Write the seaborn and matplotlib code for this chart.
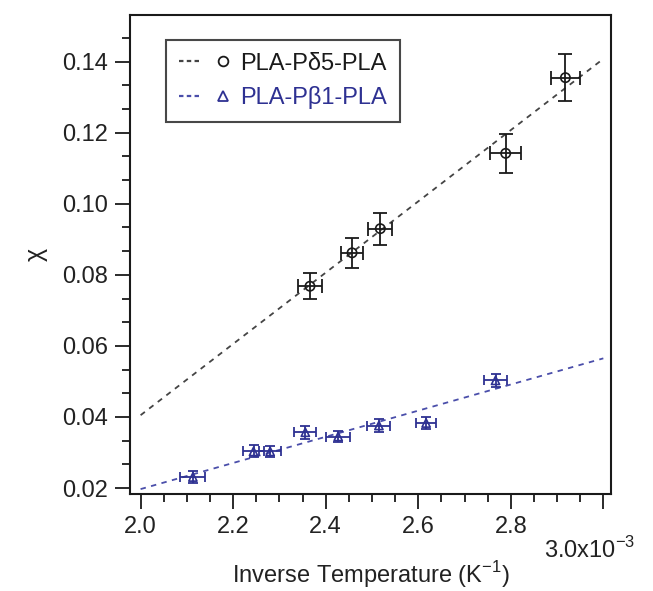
import numpy as np
import pandas as pd
import matplotlib
matplotlib.use("Agg")
import matplotlib.pyplot as plt
import seaborn as sns
from matplotlib.lines import Line2D
from matplotlib.legend_handler import HandlerTuple
from matplotlib.ticker import MultipleLocator

# data (x in units of 1e-3 K^-1)
delta_label = "PLA-P\u03b45-PLA"
delta_x = [2.366, 2.457, 2.518, 2.789, 2.918]
delta_chi = [0.0768, 0.0862, 0.0930, 0.1142, 0.1355]
delta_xerr = [0.026, 0.024, 0.026, 0.033, 0.032]
delta_yerr = [0.0037, 0.0042, 0.0045, 0.0055, 0.0066]

beta_label = "PLA-P\u03b21-PLA"
beta_x = [2.113, 2.244, 2.280, 2.356, 2.427, 2.515, 2.617, 2.767]
beta_chi = [0.0231, 0.0303, 0.0303, 0.0357, 0.0345, 0.0376, 0.0383, 0.0503]
beta_xerr = [0.027, 0.022, 0.024, 0.024, 0.026, 0.025, 0.022, 0.025]
beta_yerr = [0.0018, 0.0017, 0.0015, 0.0018, 0.0016, 0.0017, 0.0017, 0.0018]

# linear fits
fit_x = [2.0, 3.0]
delta_fit = [0.0405, 0.1408]
beta_fit = [0.0197, 0.0565]

xtick_vals = [2.0, 2.2, 2.4, 2.6, 2.8, 3.0]
xtick_labels = ["2.0", "2.2", "2.4", "2.6", "2.8", ""]
last_xlabel = "3.0x10$^{-3}$"

black = "#1a1a1a"
blue = "#2e3192"
textc = "#222222"

sns.set_style("ticks")
plt.rcParams['font.family'] = ['Liberation Sans', 'DejaVu Sans']
plt.rcParams['mathtext.fontset'] = 'custom'
plt.rcParams['mathtext.rm'] = 'Liberation Sans'

fig = plt.figure(figsize=(6.53, 5.91), dpi=100)
ax = fig.add_axes([0.199, 0.164, 0.737, 0.811])

fits = pd.DataFrame({"x": fit_x * 2,
                     "chi": delta_fit + beta_fit,
                     "series": [delta_label] * 2 + [beta_label] * 2})
sns.lineplot(data=fits, x="x", y="chi", hue="series", style="series",
             palette={delta_label: "#444444", beta_label: "#4a4eaa"},
             dashes={delta_label: (3, 3), beta_label: (3, 3)},
             linewidth=1.3, legend=False, ax=ax)

ax.errorbar(delta_x, delta_chi, xerr=delta_xerr, yerr=delta_yerr, fmt="none",
            ecolor=black, elinewidth=1.3, capsize=5, capthick=1.3, zorder=3)
ax.errorbar(beta_x, beta_chi, xerr=beta_xerr, yerr=beta_yerr, fmt="none",
            ecolor=blue, elinewidth=1.3, capsize=3.5, capthick=1.3, zorder=3)

sns.scatterplot(x=delta_x, y=delta_chi, marker="o", s=45, facecolor="none",
                edgecolor=black, linewidth=1.2, ax=ax, zorder=4)
sns.scatterplot(x=beta_x, y=beta_chi, marker="^", s=35, facecolor="none",
                edgecolor=blue, linewidth=1.2, ax=ax, zorder=4)

ax.set_xlim(1.977, 3.017)
ax.set_ylim(0.0183, 0.1532)
ax.set_xticks(xtick_vals)
ax.set_xticklabels(xtick_labels)
ax.xaxis.set_minor_locator(MultipleLocator(0.05))
ax.yaxis.set_major_locator(MultipleLocator(0.02))
ax.yaxis.set_minor_locator(MultipleLocator(0.02 / 3))
ax.yaxis.set_major_formatter(matplotlib.ticker.FormatStrFormatter('%.2f'))

ax.tick_params(which="major", length=11, width=1.3, color=black,
               labelsize=17, labelcolor=textc, pad=5)
ax.tick_params(which="minor", length=6, width=1.3, color=black)
for sp in ax.spines.values():
    sp.set_linewidth(1.5)
    sp.set_color(black)

# last tick label sits lower and a bit left in the original
ax.annotate(last_xlabel, xy=(3.0, 0), xycoords=("data", "axes fraction"),
            xytext=(-10, -40), textcoords="offset points", ha="center",
            va="center", fontsize=17, color=textc)

ax.set_xlabel("Inverse Temperature (K$^{-1}$)", fontsize=17, color=textc, labelpad=15)
ax.set_ylabel("\u03c7", fontsize=18, color=textc, labelpad=10, rotation=90)

h1 = (Line2D([], [], color="#444444", linestyle=(0, (2, 1.5)), linewidth=1.6),
      Line2D([], [], marker="o", markersize=7, markerfacecolor="none",
             markeredgecolor=black, markeredgewidth=1.3, linestyle="none"))
h2 = (Line2D([], [], color="#4a4eaa", linestyle=(0, (2, 1.5)), linewidth=1.6),
      Line2D([], [], marker="^", markersize=7, markerfacecolor="none",
             markeredgecolor=blue, markeredgewidth=1.3, linestyle="none"))
leg = ax.legend([h1, h2], [delta_label, beta_label],
                handler_map={tuple: HandlerTuple(ndivide=None, pad=0.5)},
                loc="upper left", bbox_to_anchor=(0.075, 0.948), fontsize=17,
                frameon=True, fancybox=False, edgecolor=black, handlelength=2.3,
                handletextpad=0.3, borderpad=0.55, labelspacing=0.5,
                borderaxespad=0)
leg.get_frame().set_linewidth(1.5)
leg.get_texts()[0].set_color(black)
leg.get_texts()[1].set_color(blue)

fig.savefig("out.png", dpi=100)
